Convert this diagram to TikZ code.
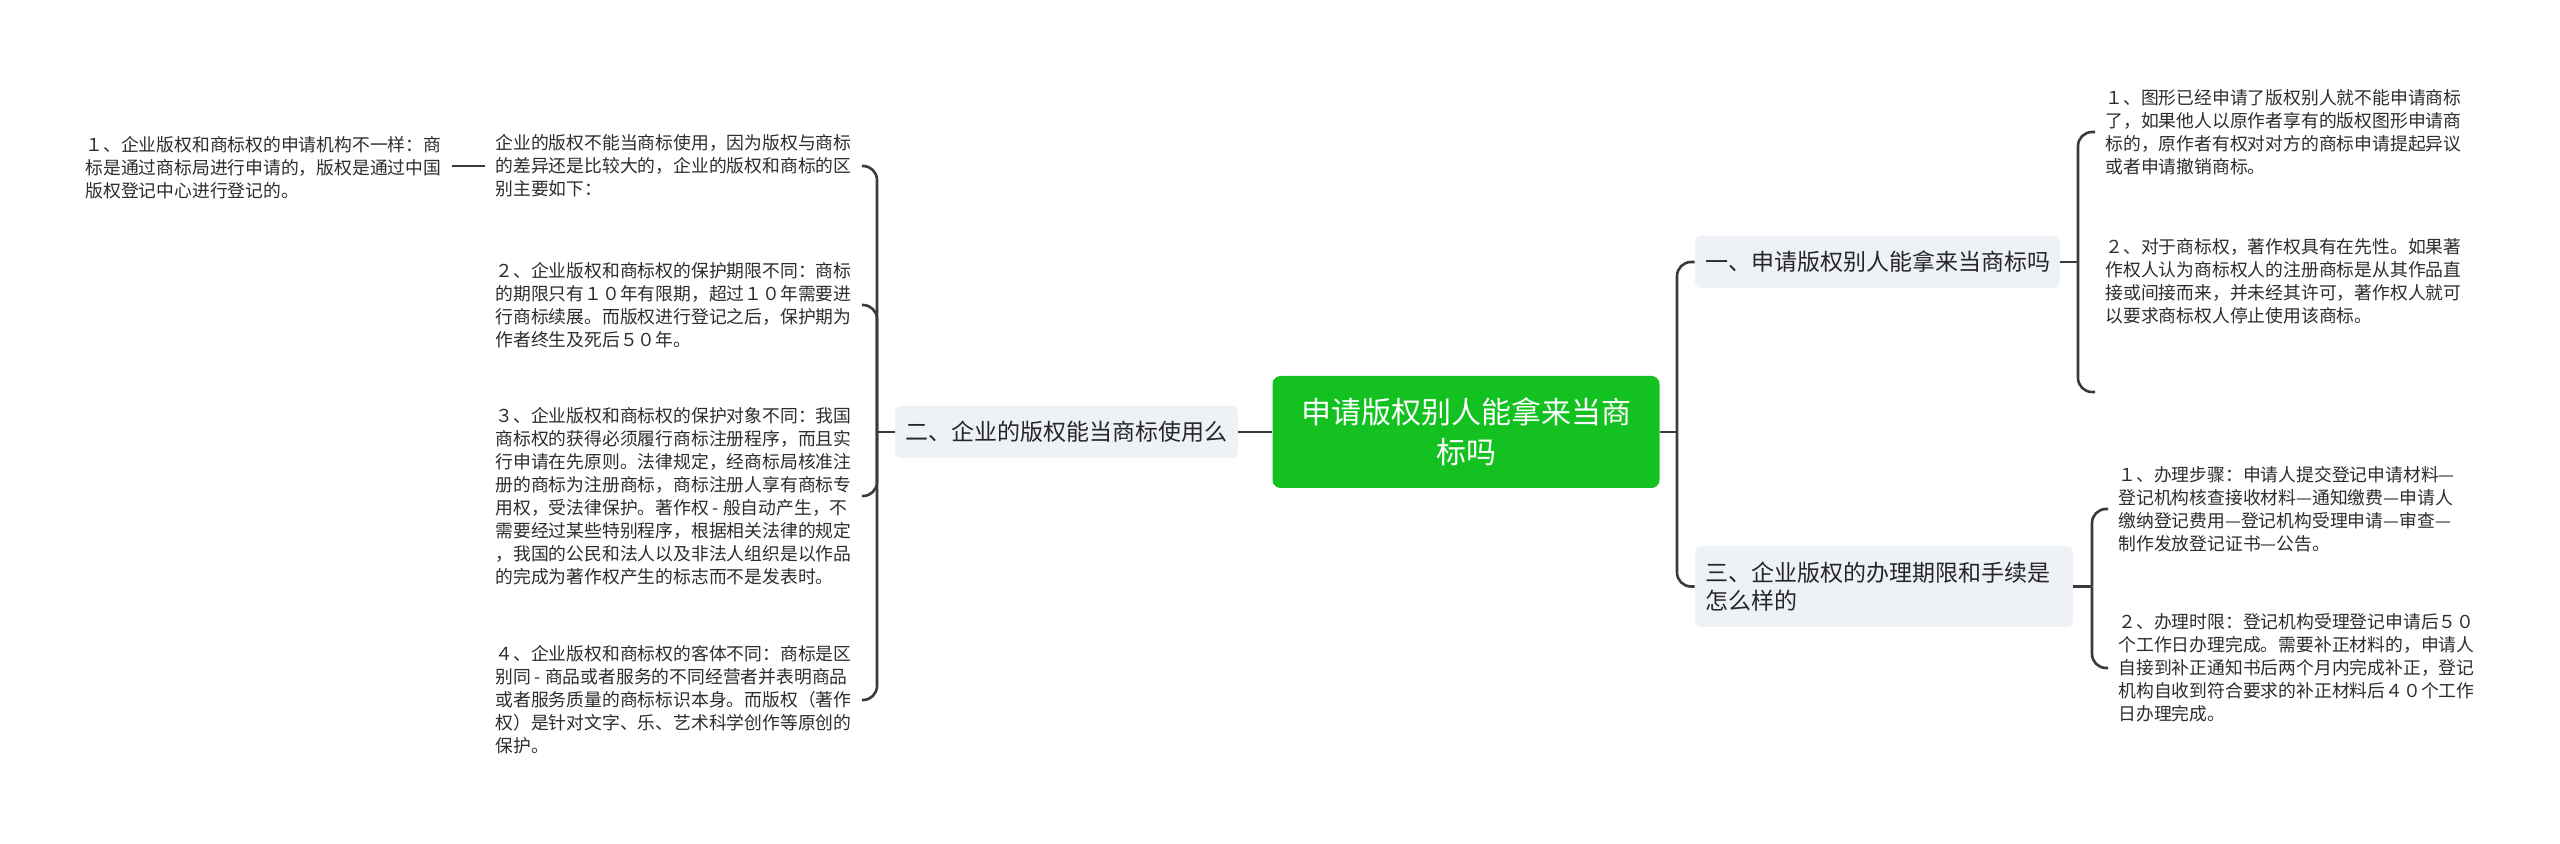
\documentclass[tikz,border=0pt]{standalone}
\usepackage{fontspec}
\usepackage{tikz}
\newfontfamily\cjk{Noto Sans CJK SC}
\definecolor{rootgreen}{RGB}{19,194,33}
\definecolor{topicfill}{RGB}{238,241,245}
\definecolor{linkgray}{RGB}{58,58,58}
\definecolor{leafink}{RGB}{45,45,45}

\begin{document}
\begin{tikzpicture}[
  x=0.5pt,y=-0.5pt,
  font=\cjk,
  root/.style={fill=rootgreen,text=white,rounded corners=4pt,align=center,minimum width=193.5pt,minimum height=56pt,font=\cjk\fontsize{15}{20}\selectfont},
  topic/.style={fill=topicfill,text=black!85,rounded corners=3pt,minimum height=26pt,font=\cjk\fontsize{11.5}{14}\selectfont},
  leaf/.style={text=leafink,align=left,anchor=west,inner xsep=5pt,inner ysep=1pt,font=\cjk\fontsize{8.9}{11.5}\selectfont},
  link/.style={draw=linkgray,line width=1.3pt},
  curvelink/.style={link,rounded corners=7pt}
]
  \useasboundingbox[fill=white] (0,0) rectangle (2560,844);

  \node[root] (root) at (1466,432) {申请版权别人能拿来当商\\标吗};
  \node[topic,minimum width=171.5pt] (l2) at (1066.5,432) {二、企业的版权能当商标使用么};
  \node[topic,minimum width=182.5pt] (l1) at (1877.5,262) {一、申请版权别人能拿来当商标吗};
  \node[topic,minimum width=189pt,minimum height=40.5pt,text width=179pt,align=left] (l3) at (1884,586.5) {三、企业版权的办理期限和手续是\\怎么样的};

  \node[leaf] (c0) at (75,168) {１、企业版权和商标权的申请机构不一样：商\\标是通过商标局进行申请的，版权是通过中国\\版权登记中心进行登记的。};
  \node[leaf] (c1) at (485,166) {企业的版权不能当商标使用，因为版权与商标\\的差异还是比较大的，企业的版权和商标的区\\别主要如下：};
  \node[leaf] (c2) at (485,305) {２、企业版权和商标权的保护期限不同：商标\\的期限只有１０年有限期，超过１０年需要进\\行商标续展。而版权进行登记之后，保护期为\\作者终生及死后５０年。};
  \node[leaf] (c3) at (485,496) {３、企业版权和商标权的保护对象不同：我国\\商标权的获得必须履行商标注册程序，而且实\\行申请在先原则。法律规定，经商标局核准注\\册的商标为注册商标，商标注册人享有商标专\\用权，受法律保护。著作权 - 般自动产生，不\\需要经过某些特别程序，根据相关法律的规定\\，我国的公民和法人以及非法人组织是以作品\\的完成为著作权产生的标志而不是发表时。};
  \node[leaf] (c4) at (485,700) {４、企业版权和商标权的客体不同：商标是区\\别同 - 商品或者服务的不同经营者并表明商品\\或者服务质量的商标标识本身。而版权（著作\\权）是针对文字、乐、艺术科学创作等原创的\\保护。};

  \node[leaf] (r1) at (2095,132) {１、图形已经申请了版权别人就不能申请商标\\了，如果他人以原作者享有的版权图形申请商\\标的，原作者有权对对方的商标申请提起异议\\或者申请撤销商标。};
  \node[leaf] (r2) at (2095,281) {２、对于商标权，著作权具有在先性。如果著\\作权人认为商标权人的注册商标是从其作品直\\接或间接而来，并未经其许可，著作权人就可\\以要求商标权人停止使用该商标。};
  \coordinate (r2end) at (2095,392);
  \node[leaf] (r3) at (2108,509) {１、办理步骤：申请人提交登记申请材料—\\登记机构核查接收材料—通知缴费—申请人\\缴纳登记费用—登记机构受理申请—审查—\\制作发放登记证书—公告。};
  \node[leaf] (r4) at (2108,668) {２、办理时限：登记机构受理登记申请后５０\\个工作日办理完成。需要补正材料的，申请人\\自接到补正通知书后两个月内完成补正，登记\\机构自收到符合要求的补正材料后４０个工作\\日办理完成。};

  \coordinate (jl) at (877,432);
  \coordinate (jr) at (1677,432);
  \coordinate (j1) at (2078,262);
  \coordinate (j3) at (2092,586.5);

  \draw[link] (root.west) -- (l2.east);
  \draw[link] (l2.west) -- (jl);
  \foreach \c in {c1,c2,c3,c4} \draw[curvelink] (jl) |- (\c.east);
  \draw[link] (c1.west) -- (c1.west -| c0.east);

  \draw[link] (root.east) -- (jr);
  \foreach \t in {l1,l3} \draw[curvelink] (jr) |- (\t.west);

  \draw[link] (l1.east) -- (j1);
  \draw[curvelink] (j1) |- (r1.west);
  \draw[curvelink] (j1) |- (r2end);

  \draw[link] (l3.east) -- (j3);
  \foreach \t in {r3,r4} \draw[curvelink] (j3) |- (\t.west);
\end{tikzpicture}
\end{document}
